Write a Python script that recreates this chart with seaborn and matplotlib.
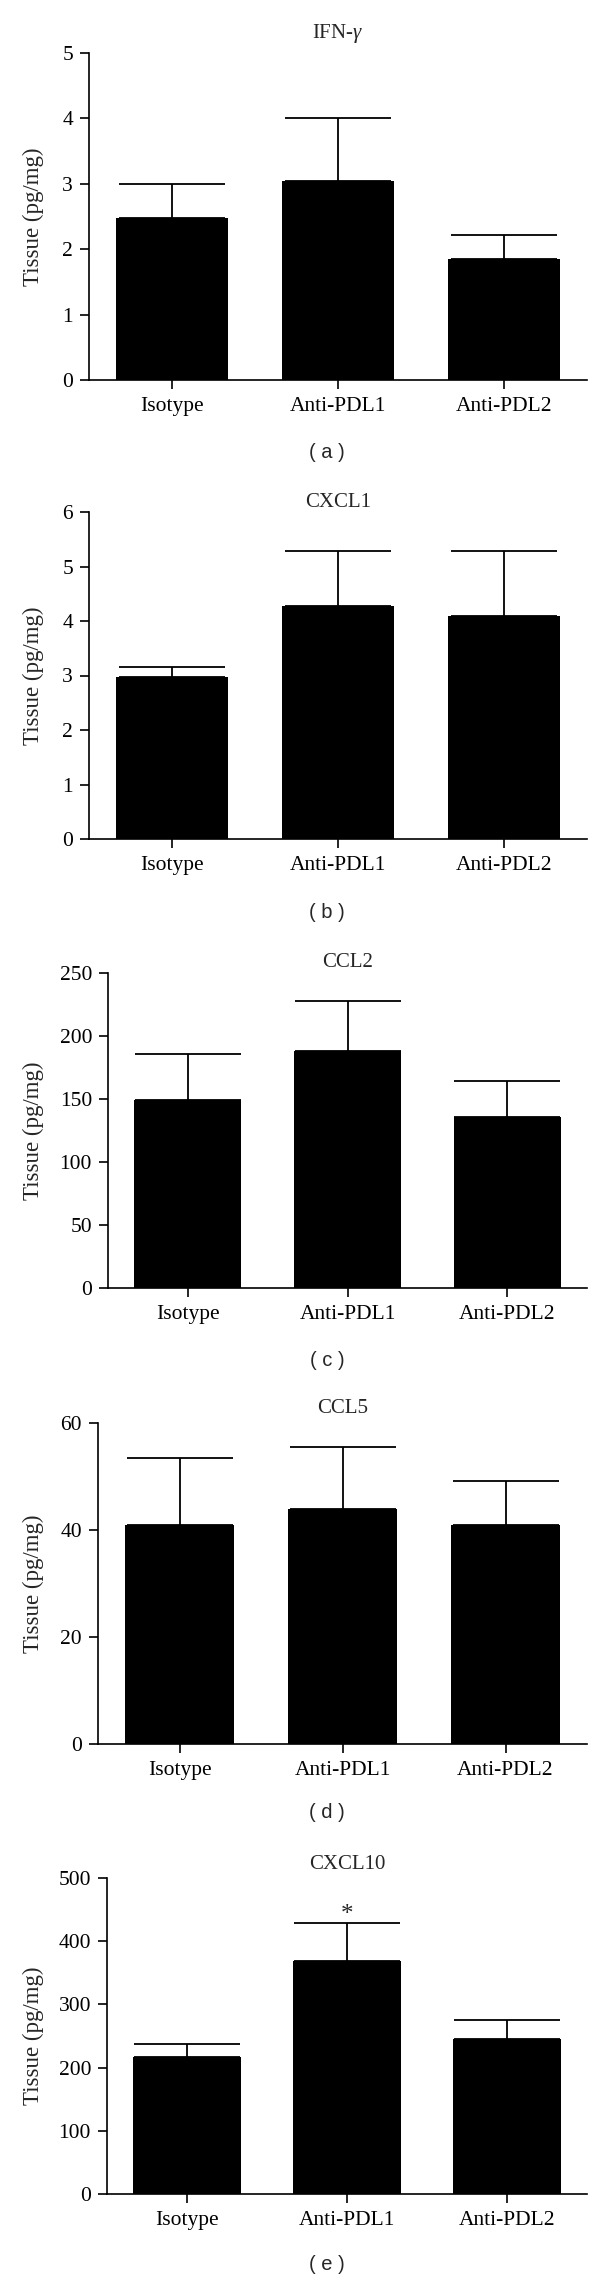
import numpy as np
import pandas as pd
import matplotlib
matplotlib.use("Agg")
import matplotlib.pyplot as plt
import matplotlib.transforms as mtransforms
import seaborn as sns

# group labels shared by all panels
groups = ["Isotype", "Anti-PDL1", "Anti-PDL2"]

# bar heights (mean) and top of error bar (mean + SEM)
ifng_mean = [2.48, 3.04, 1.85]
ifng_upper = [2.99, 4.01, 2.21]
cxcl1_mean = [2.97, 4.27, 4.10]
cxcl1_upper = [3.15, 5.29, 5.28]
ccl2_mean = [149, 188, 136]
ccl2_upper = [186, 228, 164.5]
ccl5_mean = [40.9, 43.9, 40.9]
ccl5_upper = [53.5, 55.5, 49.1]
cxcl10_mean = [216, 369, 245.5]
cxcl10_upper = [237.6, 428.6, 274.6]
cxcl10_sig = ["", "*", ""]

titles = ["IFN-$\\gamma$", "CXCL1", "CCL2", "CCL5", "CXCL10"]
letters = ["( a )", "( b )", "( c )", "( d )", "( e )"]
yticks = [
    [0, 1, 2, 3, 4, 5],
    [0, 1, 2, 3, 4, 5, 6],
    [0, 50, 100, 150, 200, 250],
    [0, 20, 40, 60],
    [0, 100, 200, 300, 400, 500],
]

means = [ifng_mean, cxcl1_mean, ccl2_mean, ccl5_mean, cxcl10_mean]
uppers = [ifng_upper, cxcl1_upper, ccl2_upper, ccl5_upper, cxcl10_upper]
sigs = [None, None, None, None, cxcl10_sig]

# layout in pixels: (left, top, bottom) of each plot area, title pad, letter y
W, H = 600, 2281
RIGHT = 587
boxes = [(89, 53, 380), (89, 512, 839), (108, 973, 1288), (98, 1423, 1744), (107, 1878, 2194)]
title_pad_px = [15, 4, 6, 10, 9]
letter_y = [453, 912, 1360, 1813, 2265]

sns.set_style("ticks")
plt.rcParams["font.family"] = ["Liberation Serif", "DejaVu Serif"]
plt.rcParams["mathtext.fontset"] = "custom"
plt.rcParams["mathtext.it"] = "Liberation Serif:italic"
plt.rcParams["mathtext.rm"] = "Liberation Serif"

fig = plt.figure(figsize=(W / 100, H / 100), dpi=100)

for i in range(5):
    left, top, bottom = boxes[i]
    ax = fig.add_axes([left / W, 1 - bottom / H, (RIGHT - left) / W, (bottom - top) / H])
    df = pd.DataFrame({"group": groups, "value": means[i]})
    sns.barplot(data=df, x="group", y="value", color="black", saturation=1,
                width=0.67, errorbar=None, ax=ax, edgecolor="black", linewidth=0)

    xs = [p.get_x() + p.get_width() / 2 for p in ax.patches]
    err = np.array(uppers[i]) - np.array(means[i])
    ax.errorbar(xs, means[i], yerr=[np.zeros(3), err], fmt="none", ecolor="black",
                elinewidth=1.3, capsize=38, capthick=1.3)

    if sigs[i] is not None:
        for x, up, s in zip(xs, uppers[i], sigs[i]):
            if s:
                ax.annotate(s, (x, up), xytext=(0, -2), textcoords="offset points",
                            ha="center", va="bottom", fontsize=18)

    ax.set_xlim(-0.5, 2.5)
    ax.set_ylim(yticks[i][0], yticks[i][-1])
    ax.set_yticks(yticks[i])
    ax.set_xlabel("")
    ax.set_ylabel("Tissue (pg/mg)", fontsize=16.5)
    trans = mtransforms.blended_transform_factory(fig.transFigure, ax.transAxes)
    ax.yaxis.set_label_coords(33 / W, 0.5, transform=trans)
    ax.yaxis.label.set_va("center")
    ax.set_title(titles[i], fontsize=15, pad=title_pad_px[i] * 0.72)

    ax.tick_params(axis="both", labelsize=15.5, length=6.5, width=1.2, colors="black", direction="out")
    ax.tick_params(axis="x", pad=6)
    ax.tick_params(axis="y", pad=5)
    for side in ["left", "bottom"]:
        ax.spines[side].set_linewidth(1.2)
        ax.spines[side].set_color("black")
    sns.despine(ax=ax)

    fig.text(327 / W, 1 - letter_y[i] / H, letters[i], ha="center", va="center",
             fontsize=14.5, family=["Liberation Sans", "DejaVu Sans"])

fig.savefig("out.png", dpi=100, facecolor="white")
